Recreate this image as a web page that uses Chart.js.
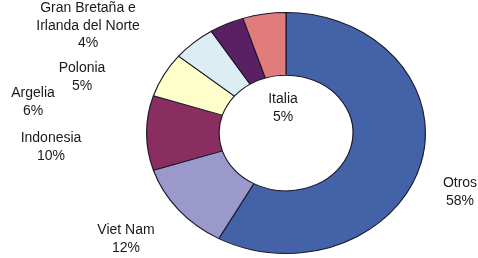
<!DOCTYPE html>
<html lang="es">
<head>
    <title>Proveedores</title>
    <meta charset="UTF-8">
    <script src="https://cdn.jsdelivr.net/npm/chart.js"></script>
    <style>
        html, body {
            margin: 0;
            padding: 0;
            background: #fff;
        }
        #wrap {
            width: 478px;
            height: 258px;
        }
    </style>
</head>
<body>
    <div id="wrap"><canvas id="chart" width="478" height="258"></canvas></div>
    <script>
        // datos
        var categorias = ['Otros', 'Viet Nam', 'Indonesia', 'Argelia', 'Polonia',
            ['Gran Bretaña e', 'Irlanda del Norte'], 'Italia'];
        var valores = [58, 12, 10, 6, 5, 4, 5];
        var colores = ['#4462A8', '#9B99CB', '#8A2E62', '#FFFFCC', '#DCEDF4', '#5B1F64', '#E07C7C'];

        // donde van las etiquetas (centro del bloque de texto)
        var posEtiquetas = [
            [460, 192], [126, 239], [51, 147], [33, 102], [82, 77], [88, 26], [283, 108]
        ];

        // la figura original esta un poco estirada en horizontal
        var estirar = {
            id: 'estirar',
            beforeDatasetsDraw: function (chart) {
                var a = chart.chartArea;
                var cx = (a.left + a.right) / 2;
                var ctx = chart.ctx;
                ctx.save();
                ctx.translate(cx, 0);
                ctx.scale(1.157, 1);
                ctx.translate(-cx, 0);
            },
            afterDatasetsDraw: function (chart) {
                chart.ctx.restore();
            }
        };

        var etiquetas = {
            id: 'etiquetas',
            afterDraw: function (chart) {
                var ctx = chart.ctx;
                ctx.save();
                ctx.font = '14px "Liberation Sans", Arial, sans-serif';
                ctx.fillStyle = '#1a1a1a';
                ctx.textAlign = 'center';
                ctx.textBaseline = 'middle';
                var lh = 17.5;
                categorias.forEach(function (c, i) {
                    var lineas = [].concat(c);
                    lineas.push(valores[i] + '%');
                    var p = posEtiquetas[i];
                    var y0 = p[1] - (lineas.length - 1) * lh / 2;
                    lineas.forEach(function (t, j) {
                        ctx.fillText(t, p[0], y0 + j * lh);
                    });
                });
                ctx.restore();
            }
        };

        var ctx = document.getElementById('chart').getContext('2d');
        var chart = new Chart(ctx, {
            type: 'doughnut',
            data: {
                labels: categorias,
                datasets: [{
                    data: valores,
                    backgroundColor: colores,
                    borderColor: '#1a1a2a',
                    borderWidth: 1,
                    hoverOffset: 0
                }]
            },
            options: {
                responsive: false,
                animation: false,
                cutout: '48%',
                layout: {
                    padding: { top: 12, bottom: 4, left: 165, right: 71 }
                },
                plugins: {
                    legend: { display: false },
                    tooltip: { enabled: false }
                }
            },
            plugins: [estirar, etiquetas]
        });
    </script>
</body>
</html>
